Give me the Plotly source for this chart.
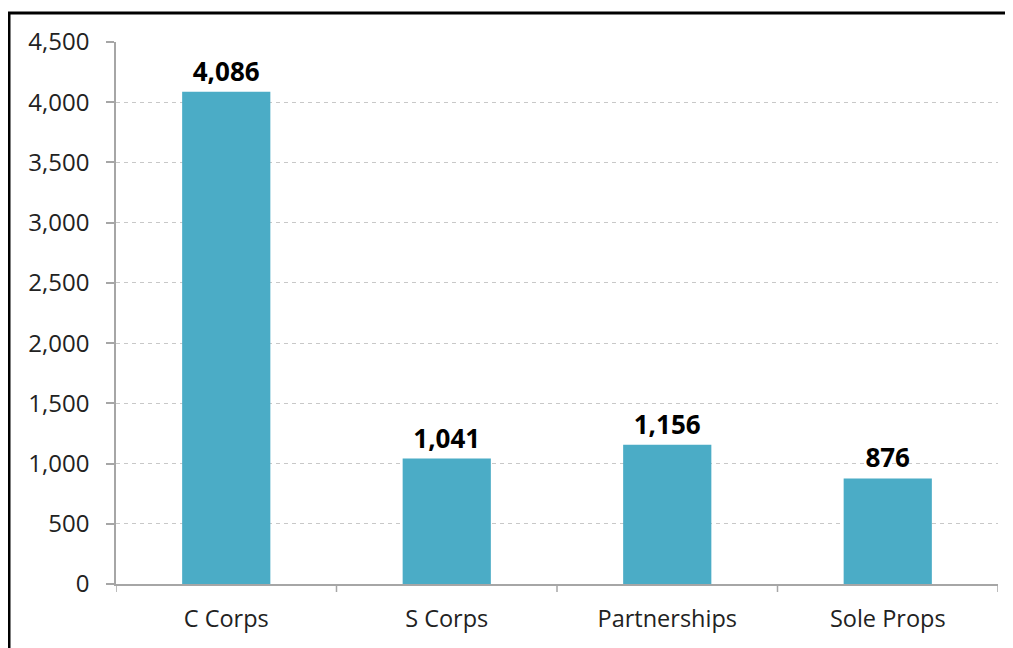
import plotly.graph_objects as go

categories = ["C Corps", "S Corps", "Partnerships", "Sole Props"]
values = [4086, 1041, 1156, 876]
y_ticks = [0, 500, 1000, 1500, 2000, 2500, 3000, 3500, 4000, 4500]

# page body has an 8px offset; screen target: plot x 116..998, y 42..584
OFF = 8
W, H = 1005, 640
L, R, T, B = 108, 15, 34, 64
pw, ph = W - L - R, H - T - B

def sx(px):  # screen px -> paper x
    return (px - OFF - L) / pw

def sy(py):  # screen px -> paper y
    return (H - B - (py - OFF)) / ph

font = "'Open Sans', sans-serif"
tcol = "#222222"
acol = "#a6a6a6"

fig = go.Figure(go.Bar(
    x=categories, y=values, width=0.4,
    marker=dict(color="#4BACC6", line=dict(width=0)),
    text=[f"{v:,}" for v in values], textposition="outside",
    textfont=dict(family=font, size=26, color="#000000", weight="bold"),
    cliponaxis=False,
))

fig.update_layout(
    width=W, height=H,
    margin=dict(l=L, r=R, t=T, b=B),
    paper_bgcolor="white", plot_bgcolor="white",
    showlegend=False,
    font=dict(family=font, size=23, color=tcol),
    uniformtext=dict(minsize=8, mode=False),
    xaxis=dict(
        range=[-0.5, 3.5],
        showline=True, linecolor=acol, linewidth=1.5,
        ticks="", showgrid=False, tickfont=dict(size=23.5, color=tcol),
        ticklabelstandoff=13,
    ),
    yaxis=dict(
        range=[0, 4500], tickvals=y_ticks, tickformat=",d",
        showline=True, linecolor=acol, linewidth=1.5,
        ticks="outside", ticklen=8, tickcolor=acol, tickwidth=1.5,
        showgrid=True, gridcolor="#c8c8c8", griddash="4px,4px", gridwidth=1,
        zeroline=False, tickfont=dict(size=24, color=tcol),
        ticklabelstandoff=12,
    ),
)

shapes = []
for i in range(len(categories) + 1):
    shapes.append(dict(type="line", xref="x", yref="paper",
                       x0=i - 0.5, x1=i - 0.5, y0=0, y1=sy(592),
                       line=dict(color=acol, width=1.5)))
shapes.append(dict(type="rect", xref="paper", yref="paper",
                   x0=sx(9), x1=sx(1040), y0=sy(680), y1=sy(13),
                   line=dict(color="black", width=3), fillcolor="rgba(0,0,0,0)"))
fig.update_layout(shapes=shapes)

fig.write_html("out.html")
